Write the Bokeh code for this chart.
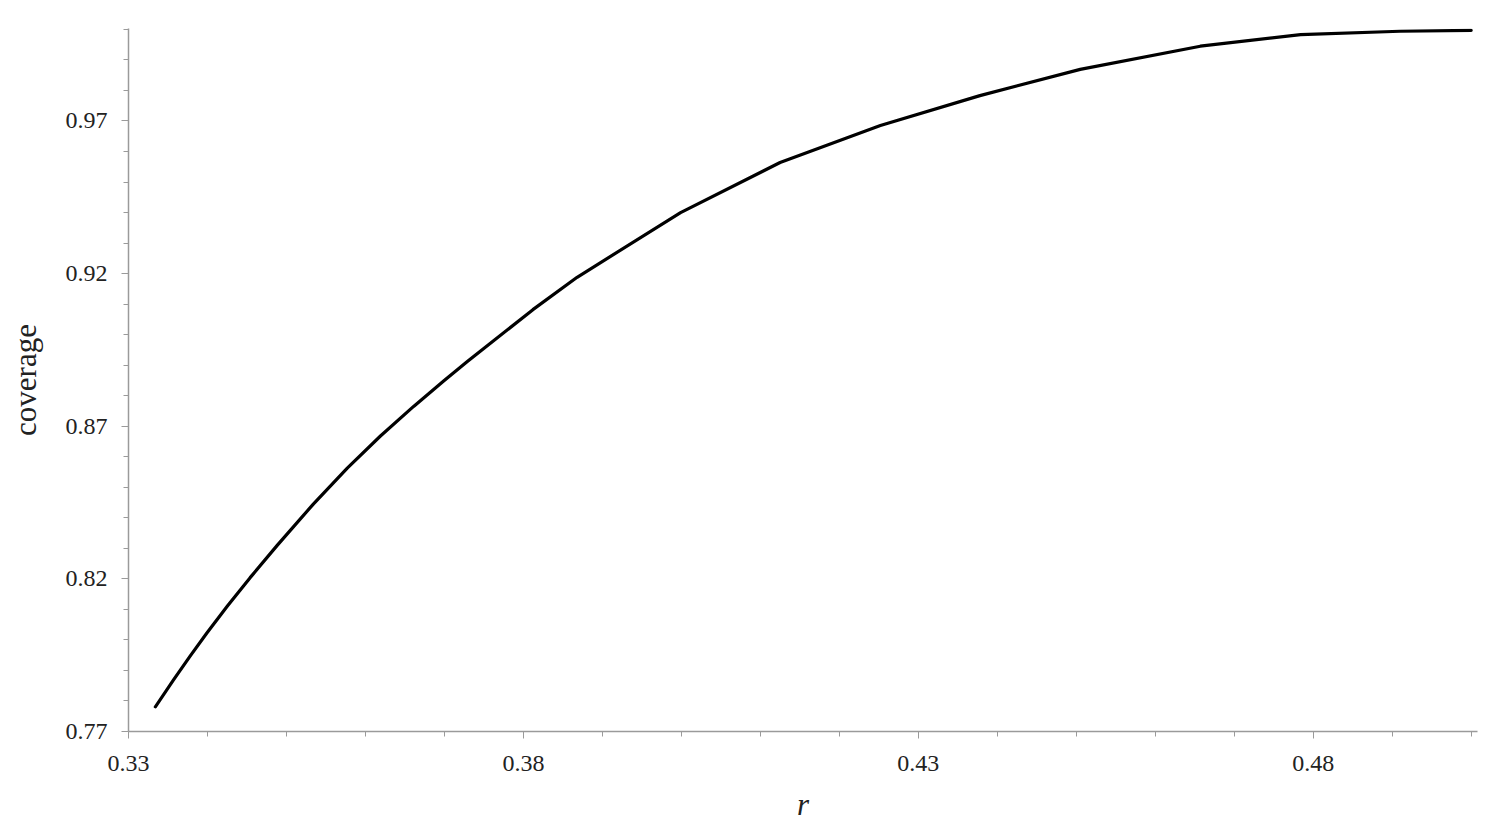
from bokeh.plotting import figure
from bokeh.models import FixedTicker, Range1d
from bokeh.embed import file_html
from bokeh.resources import INLINE

# Data
r_vals = [0.3334, 0.3357, 0.3378, 0.3399, 0.3425, 0.3454, 0.3488, 0.3534,
          0.3577, 0.3619, 0.3661, 0.3699, 0.3729, 0.3812, 0.3868, 0.3999,
          0.4125, 0.4252, 0.4378, 0.4505, 0.4657, 0.4784, 0.4910, 0.5000]
coverage = [0.7781, 0.7869, 0.7947, 0.8022, 0.8110, 0.8204, 0.8309, 0.8445,
            0.8563, 0.8668, 0.8765, 0.8848, 0.8912, 0.9082, 0.9188, 0.9400,
            0.9564, 0.9685, 0.9783, 0.9869, 0.9945, 0.9983, 0.9994, 0.9997]

x_major = [0.33, 0.38, 0.43, 0.48]
x_minor = [0.34, 0.35, 0.36, 0.37, 0.39, 0.40, 0.41, 0.42, 0.44, 0.45, 0.46, 0.47, 0.49, 0.50]
y_major = [0.77, 0.82, 0.87, 0.92, 0.97]
y_minor = [0.78, 0.79, 0.80, 0.81, 0.83, 0.84, 0.85, 0.86, 0.88, 0.89, 0.90, 0.91,
           0.93, 0.94, 0.95, 0.96, 0.98, 0.99, 1.00]

SERIF = "Liberation Serif"

p = figure(width=1498, height=824, output_backend="svg", toolbar_location=None,
           x_range=Range1d(0.33, 0.5008), y_range=Range1d(0.77, 1.0003),
           min_border_left=128, min_border_right=21, min_border_top=28, min_border_bottom=81)
p.outline_line_color = None
p.xgrid.visible = False
p.ygrid.visible = False
p.background_fill_color = "white"
p.border_fill_color = "white"

p.line(r_vals, coverage, line_color="black", line_width=3.2, line_join="round", line_cap="round")

for ax, major, minor in ((p.xaxis[0], x_major, x_minor), (p.yaxis[0], y_major, y_minor)):
    ax.ticker = FixedTicker(ticks=major, minor_ticks=minor)
    ax.axis_line_color = "#9a9a9a"
    ax.axis_line_width = 1.5
    ax.major_tick_line_color = "#9a9a9a"
    ax.minor_tick_line_color = "#9a9a9a"
    ax.major_tick_out = 7
    ax.major_tick_in = 0
    ax.minor_tick_out = 5
    ax.minor_tick_in = 0
    ax.major_label_text_font = SERIF
    ax.major_label_text_font_size = "24px"
    ax.major_label_text_color = "#222222"
    ax.axis_label_text_font = SERIF
    ax.axis_label_text_font_size = "31px"
    ax.axis_label_text_color = "#222222"

p.xaxis[0].formatter.use_scientific = False
p.yaxis[0].formatter.use_scientific = False
p.xaxis[0].major_label_standoff = 17
p.yaxis[0].major_label_standoff = 14
p.xaxis[0].axis_label = "r"
p.xaxis[0].axis_label_text_font_style = "italic"
p.xaxis[0].axis_label_standoff = 13
p.yaxis[0].axis_label = "coverage"
p.yaxis[0].axis_label_text_font_style = "normal"
p.yaxis[0].axis_label_standoff = 20

open("out.html", "w").write(file_html(p, INLINE))
